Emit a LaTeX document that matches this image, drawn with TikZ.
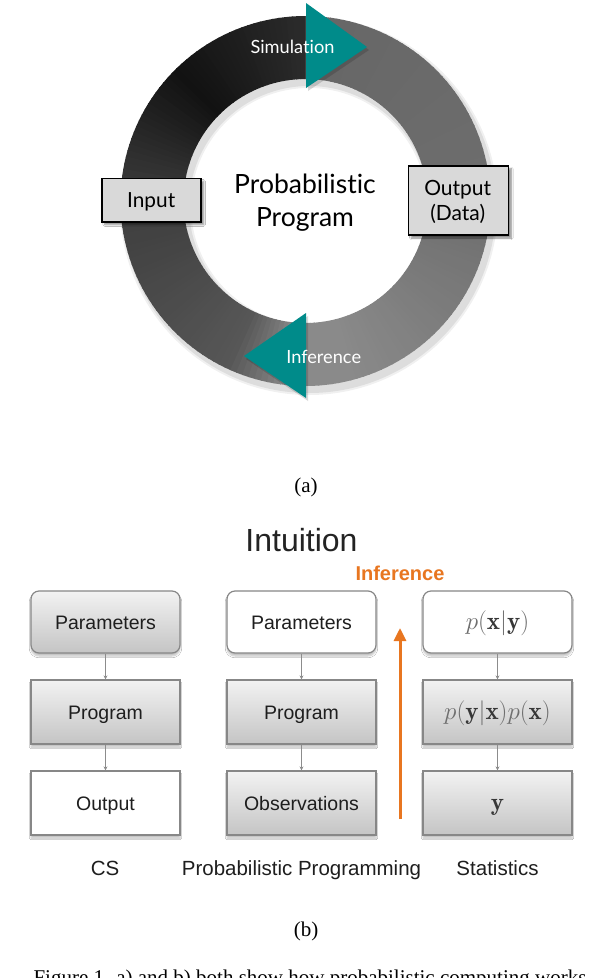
\RequirePackage{fix-cm}
\documentclass[tikz,border=0pt]{standalone}
\usepackage{fontspec}
\newfontfamily\gillf[Ligatures=NoCommon]{Lato}
\newfontfamily\helv{Liberation Sans}
\newfontfamily\serifcap{Liberation Serif}
\usetikzlibrary{shadows.blur,arrows.meta}
\definecolor{tealc}{RGB}{0,139,138}
\definecolor{orng}{RGB}{232,118,32}
\definecolor{boxline}{RGB}{135,135,135}
\definecolor{txtc}{RGB}{30,30,30}
\definecolor{mgray}{RGB}{110,110,110}
\definecolor{dgray}{RGB}{55,55,55}
\definecolor{agray}{RGB}{217,217,217}
\definecolor{conng}{RGB}{140,140,140}
\begin{document}
\begin{tikzpicture}[x=1pt,y=1pt,
  abox/.style={draw=black, line width=1.6pt, fill=agray, inner sep=0pt,
    blur shadow={shadow xshift=3pt, shadow yshift=-3pt, shadow opacity=45, shadow blur steps=6}},
  atext/.style={font=\gillf\fontsize{21}{24}\selectfont, text=black, anchor=base},
  bx/.style={draw=boxline, line width=1.2pt, minimum width=149pt, minimum height=64pt,
    inner sep=0pt, text height=14pt, text depth=0pt, text=txtc,
    font=\helv\fontsize{19.5}{22}\selectfont,
    blur shadow={shadow xshift=0pt, shadow yshift=-3pt, shadow opacity=25, shadow blur steps=6}},
  gbx/.style={bx, top color=gray!10, bottom color=gray!46},
  wbx/.style={bx, fill=white},
  rbx/.style={rounded corners=8pt, minimum height=62pt},
  mth/.style={font=\fontsize{25}{30}\selectfont, text=mgray},
  conn/.style={draw=conng, line width=0.9pt, -{Stealth[length=4pt,width=4pt]}},
  lab/.style={font=\helv\fontsize{20.5}{24}\selectfont, text=txtc, anchor=base},
  capt/.style={font=\serifcap\fontsize{21}{24}\selectfont, text=black, anchor=base}
]
\useasboundingbox (0,0) rectangle (598,-978);
\clip (0,0) rectangle (598,-978);
\fill[white] (0,0) rectangle (598,-978);

% ---------- (a) ring ----------
\begin{scope}[shift={(309,-206)}]
  \fill[black, opacity=0.06, even odd rule] (0,0) circle[radius=189] (0,0) circle[radius=118];
  \fill[black, opacity=0.08, even odd rule] (0,0) circle[radius=187] (0,0) circle[radius=120];
\end{scope}
\coordinate (C) at (305.5,-201);
\foreach \a in {0,2,...,358}{
  \pgfmathsetmacro{\t}{mod(450-\a-1,360)}
  \pgfmathsetmacro{\g}{\t<90 ? 0.40+0.03*\t/90 : (\t<165 ? 0.43+0.11*(\t-90)/75 : (\t<185 ? 0.54 : (\t<205 ? 0.54-0.2*(\t-185)/20 : (\t<270 ? 0.34-0.10*(\t-205)/65 : (\t<315 ? 0.24-0.17*(\t-270)/45 : 0.07+0.10*(\t-315)/45)))))}
  \definecolor{wc}{gray}{\g}
  \fill[wc, shift={(C)}] (\a:122) arc[start angle=\a, end angle=\a+2.4, radius=122]
     -- (\a+2.4:185) arc[start angle=\a+2.4, end angle=\a, radius=185] -- cycle;
}
% arrows on ring
\fill[black, opacity=0.15] (308,-6) -- (369,-50) -- (308,-91) -- cycle;
\fill[black, opacity=0.15] (308,-316) -- (246,-359) -- (308,-401) -- cycle;
\fill[tealc] (306,-3) -- (367,-47) -- (306,-88) -- cycle;
\fill[tealc] (306,-313) -- (244,-356) -- (306,-398) -- cycle;
\node[atext, text=white, font=\gillf\fontsize{18.2}{22}\selectfont] (sim) at (292.5,-53) {Simulation};
\node[atext, text=white, font=\gillf\fontsize{18.2}{22}\selectfont] (inf) at (323.7,-363) {Inference};

% center text
\node[atext, font=\gillf\fontsize{26.5}{30}\selectfont] (pp1) at (305,-193.3) {Probabilistic};
\node[atext, font=\gillf\fontsize{26.5}{30}\selectfont] (pp2) at (305,-226.7) {Program};

% input / output boxes
\node[abox, minimum width=99pt, minimum height=43.4pt, text height=14.5pt, text depth=0pt,
      font=\gillf\fontsize{20.8}{22}\selectfont] (input) at (151.2,-200) {Input};
\node[abox, minimum width=100pt, minimum height=69.3pt] (outbox) at (458.3,-200.4) {};
\node[atext] (out1) at (457.7,-195) {Output};
\node[atext] (out2) at (457.7,-220) {(Data)};

\node[capt] (cap-a) at (306,-492) {(a)};

% ---------- (b) ----------
\node[anchor=base, font=\helv\fontsize{32}{36}\selectfont, text={rgb,255:red,35;green,35;blue,35}] (intu) at (301.5,-551.7) {Intuition};
\node[anchor=base, font=\helv\bfseries\fontsize{20}{24}\selectfont, text=orng] (infl) at (400,-580) {Inference};

% column 1
\node[gbx, rbx] (c1r1) at (105.5,-622) {Parameters};
\node[gbx] (c1r2) at (105.5,-712) {Program};
\node[wbx] (c1r3) at (105.5,-803) {Output};
% column 2
\node[wbx, rbx] (c2r1) at (301.5,-622) {Parameters};
\node[gbx] (c2r2) at (301.5,-712) {Program};
\node[gbx] (c2r3) at (301.5,-803) {Observations};
% column 3
\node[wbx, rbx, mth] (c3r1) at (497.5,-622) {$p(\textcolor{dgray}{\mathbf{x}}|\textcolor{dgray}{\mathbf{y}})$};
\node[gbx, mth] (c3r2) at (497.5,-712) {$p(\textcolor{dgray}{\mathbf{y}}|\textcolor{dgray}{\mathbf{x}})p(\textcolor{dgray}{\mathbf{x}})$};
\node[gbx, mth, text=dgray] (c3r3) at (497.5,-803) {$\mathbf{y}$};

\foreach \c in {1,2,3}{
  \draw[conn] (c\c r1.south) -- (c\c r2.north);
  \draw[conn] (c\c r2.south) -- (c\c r3.north);
}

% orange inference arrow
\coordinate (obot) at (400,-819);
\coordinate (otop) at (400,-628);
\draw[orng, line width=3pt, -{Triangle[length=13pt,width=12pt]}] (obot) -- (otop);

% column labels
\node[lab] (lcs) at (105,-875) {CS};
\node[lab] (lpp) at (301.5,-875) {Probabilistic Programming};
\node[lab] (lst) at (497.5,-875) {Statistics};

\node[capt] (cap-b) at (306,-936) {(b)};
\node[capt, anchor=base west] (fig) at (30,-984) {Figure 1. a) and b) both show how probabilistic computing works};
\end{tikzpicture}
\end{document}
